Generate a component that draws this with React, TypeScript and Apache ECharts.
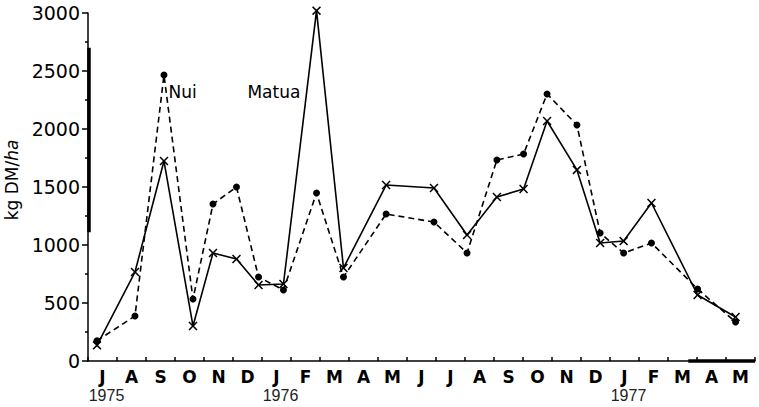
import React, { useEffect, useRef } from "react";
import * as echarts from "echarts";

const monthLabels = ["J","A","S","O","N","D","J","F","M","A","M","J","J","A","S","O","N","D","J","F","M","A","M"];
const yearLabels: Record<number, string> = { 0: "1975", 6: "1976", 18: "1977" };

// sampling dates, in months after the start of July 1975
const sampleMonths = [0.31, 1.62, 2.62, 3.62, 4.31, 5.12, 5.88, 6.74, 7.88, 8.81, 10.28, 11.93, 13.07, 14.1, 15.02, 15.83, 16.86, 17.66, 18.47, 19.43, 21.02, 22.33];
const matua = [135, 767, 1724, 302, 931, 879, 655, 664, 3020, 802, 1517, 1491, 1086, 1414, 1483, 2069, 1647, 1017, 1034, 1362, 569, 379];
const nui = [175, 388, 2465, 534, 1353, 1500, 724, 612, 1448, 724, 1267, 1198, 931, 1733, 1784, 2302, 2034, 1103, 931, 1017, 621, 336];

const crossPath = "path://M0,1.2L1.2,0L5,3.8L8.8,0L10,1.2L6.2,5L10,8.8L8.8,10L5,6.2L1.2,10L0,8.8L3.8,5Z";

export default function App() {
  const ref = useRef<HTMLDivElement>(null);
  useEffect(() => {
    if (!ref.current) return;
    const chart = echarts.init(ref.current, null, { renderer: "svg" });
    const font = "DejaVu Sans";
    chart.setOption({
      animation: false,
      backgroundColor: "#ffffff",
      grid: { left: 88, right: 4, top: 13, bottom: 46, containLabel: false, outerBoundsMode: "none" },
      xAxis: [
        { type: "value", min: 0, max: 23, show: false },
        {
          type: "category",
          data: monthLabels,
          position: "bottom",
          boundaryGap: true,
          axisLine: { lineStyle: { color: "#000", width: 1.5 } },
          axisTick: { show: true, inside: true, length: 4, interval: 0, lineStyle: { color: "#000", width: 1.5 } },
          axisLabel: {
            interval: 0,
            margin: 6,
            formatter: (v: string, i: number) =>
              yearLabels[i] ? `{m|${v}}\n{y|${yearLabels[i]}}` : `{m|${v}}`,
            rich: {
              m: { fontFamily: font, fontSize: 17, fontWeight: "bold", color: "#000", lineHeight: 19 },
              y: { fontFamily: "Liberation Sans", fontSize: 16, color: "#222", lineHeight: 19, padding: [0, 0, 0, 8] },
            },
          },
        },
      ],
      yAxis: {
        type: "value",
        min: 0,
        max: 3000,
        interval: 500,
        name: "{a|kg DM/}{b|ha}",
        nameLocation: "middle",
        nameRotate: 90,
        nameGap: 64,
        nameTextStyle: {
          padding: [0, 0, 0, 14],
          rich: {
            a: { fontFamily: font, fontSize: 17, color: "#000" },
            b: { fontFamily: font, fontSize: 17, color: "#000", fontStyle: "italic" },
          },
        },
        axisLine: { show: true, lineStyle: { color: "#000", width: 1.5 } },
        axisTick: { show: true, length: 6, lineStyle: { color: "#000", width: 1.5 } },
        minorTick: { show: true, splitNumber: 2, length: 3, lineStyle: { color: "#000", width: 1.5 } },
        splitLine: { show: false },
        axisLabel: {
          margin: 8,
          fontFamily: font,
          fontSize: 19,
          color: "#000",
          formatter: (v: number) => String(v),
        },
      },
      series: [
        {
          name: "Matua",
          type: "line",
          xAxisIndex: 0,
          clip: false,
          data: sampleMonths.map((m, i) => [m, matua[i]]),
          symbol: crossPath,
          symbolSize: 9,
          itemStyle: { color: "#000" },
          lineStyle: { color: "#000", width: 1.6 },
          markPoint: {
            symbol: "circle",
            symbolSize: 1,
            itemStyle: { color: "rgba(0,0,0,0)" },
            label: { show: true, position: "right", distance: 0, fontFamily: font, fontSize: 17, color: "#000" },
            data: [{ coord: [5.48, 2319], value: "Matua" }],
          },
          markLine: {
            silent: true,
            symbol: "none",
            label: { show: false },
            lineStyle: { color: "#000", width: 3.5, type: "solid" },
            data: [
              [{ coord: [0.03, 2700] }, { coord: [0.03, 1110] }],
              [{ coord: [20.7, 0] }, { coord: [23, 0] }],
            ],
          },
        },
        {
          name: "Nui",
          type: "line",
          xAxisIndex: 0,
          clip: false,
          data: sampleMonths.map((m, i) => [m, nui[i]]),
          symbol: "circle",
          symbolSize: 7,
          itemStyle: { color: "#000" },
          lineStyle: { color: "#000", width: 1.6, type: [6, 4] },
          markPoint: {
            symbol: "circle",
            symbolSize: 1,
            itemStyle: { color: "rgba(0,0,0,0)" },
            label: { show: true, position: "right", distance: 0, fontFamily: font, fontSize: 17, color: "#000" },
            data: [{ coord: [2.76, 2319], value: "Nui" }],
          },
        },
      ],
    });
    return () => chart.dispose();
  }, []);
  return (
    <div
      ref={ref}
      style={{ position: "absolute", left: 0, top: 0, width: 759, height: 407, background: "#fff" }}
    />
  );
}
